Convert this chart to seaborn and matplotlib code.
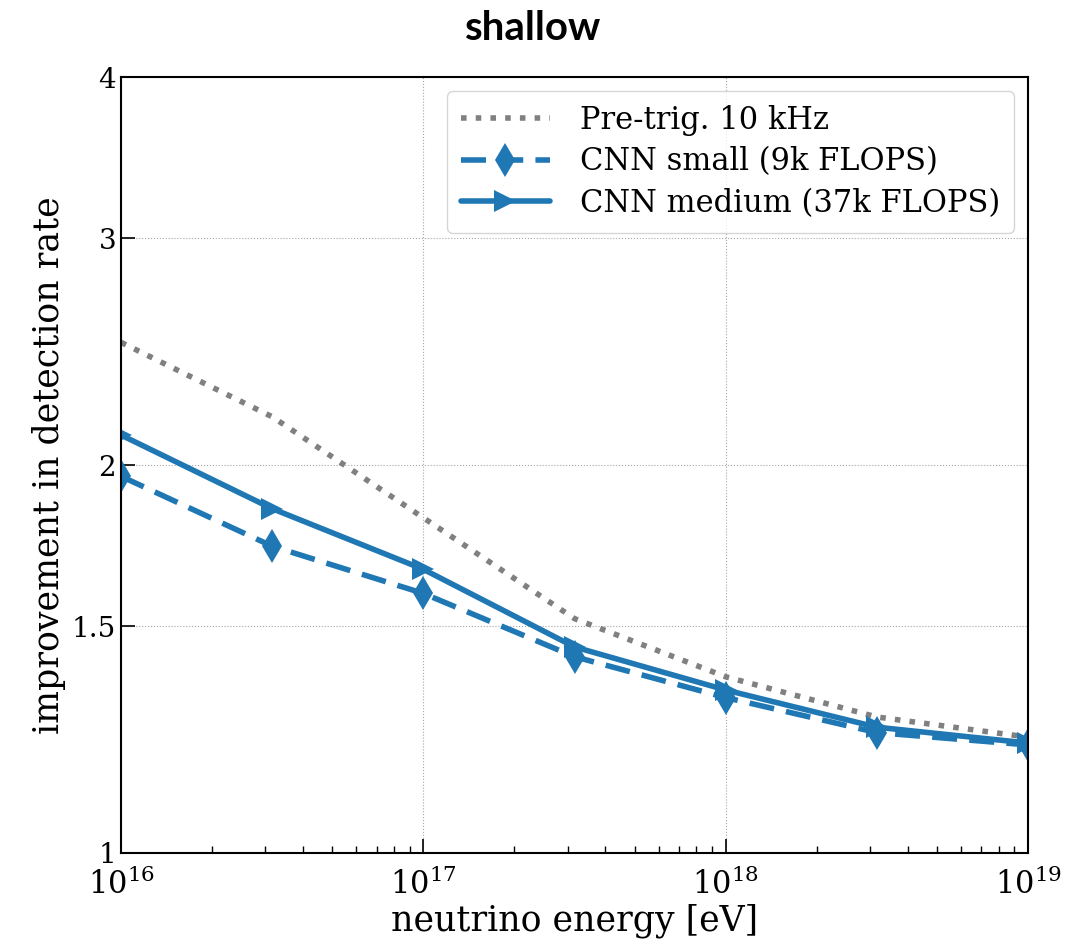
import numpy as np
import pandas as pd
import matplotlib
matplotlib.use("Agg")
import matplotlib.pyplot as plt
import seaborn as sns
from matplotlib.ticker import FixedLocator, FixedFormatter, NullLocator

energy = [1e16, 10**16.5, 1e17, 10**17.5, 1e18, 10**18.5, 1e19]
pretrig = [2.49, 2.18, 1.82, 1.52, 1.37, 1.275, 1.23]
cnn_small = [1.96, 1.73, 1.59, 1.42, 1.32, 1.24, 1.213]
cnn_medium = [2.11, 1.85, 1.66, 1.445, 1.338, 1.252, 1.217]
labels = ["Pre-trig. 10 kHz", "CNN small (9k FLOPS)", "CNN medium (37k FLOPS)"]
y_ticks = [1, 1.5, 2, 3, 4]
y_ticklabels = ["1", "1.5", "2", "3", "4"]

sns.set_style("ticks")
plt.rcParams["font.family"] = ["DejaVu Serif"]
plt.rcParams["mathtext.fontset"] = "dejavuserif"
plt.rcParams["text.color"] = "black"
plt.rcParams["axes.labelcolor"] = "black"
plt.rcParams["xtick.color"] = "black"
plt.rcParams["ytick.color"] = "black"

fig = plt.figure(figsize=(10.66, 9.52), dpi=100)
ax = fig.add_axes([0.1135, 0.104, 0.8509, 0.8151])

blue = "#1f77b4"
df = pd.DataFrame({"energy": energy, "pre": pretrig, "small": cnn_small, "medium": cnn_medium})

sns.lineplot(data=df, x="energy", y="pre", ax=ax, color="gray", linestyle=":",
             linewidth=4, label=labels[0])
sns.lineplot(data=df, x="energy", y="small", ax=ax, color=blue, linewidth=4,
             marker="d", markersize=17, markeredgewidth=0, label=labels[1])
ax.lines[-1].set_dashes([4.5, 2.2])
sns.lineplot(data=df, x="energy", y="medium", ax=ax, color=blue, linewidth=4,
             marker=">", markersize=16, markeredgewidth=0, label=labels[2])

ax.set_xscale("log")
ax.set_yscale("log")
ax.set_xlim(1e16, 1e19)
ax.set_ylim(1, 4)
ax.yaxis.set_major_locator(FixedLocator(y_ticks))
ax.yaxis.set_major_formatter(FixedFormatter(y_ticklabels))
ax.yaxis.set_minor_locator(NullLocator())

ax.grid(True, which="major", linestyle=":", color="gray", linewidth=0.8, alpha=0.7)
ax.tick_params(axis="both", which="major", direction="in", length=10, width=1.2,
               labelsize=20, top=False, right=False)
ax.tick_params(axis="x", which="minor", direction="in", length=5, width=1.0,
               top=False)
ax.tick_params(axis="x", labelsize=22, pad=11)
for s in ax.spines.values():
    s.set_linewidth(1.5)
    s.set_color("black")

ax.set_xlabel("neutrino energy [eV]", fontsize=25, labelpad=2)
ax.set_ylabel("improvement in detection rate", fontsize=25)
fig.suptitle("shallow", fontsize=29, fontweight="bold", family="Lato", y=0.99,
             color="black")

leg = ax.legend(loc="upper right", fontsize=22, frameon=True, handlelength=2.9,
                handletextpad=1.0, borderpad=0.45, labelspacing=0.35,
                borderaxespad=0.45)
leg.get_frame().set_edgecolor("#cccccc")
for line in leg.get_lines():
    line.set_linewidth(4)

fig.savefig("out.png", dpi=100)
